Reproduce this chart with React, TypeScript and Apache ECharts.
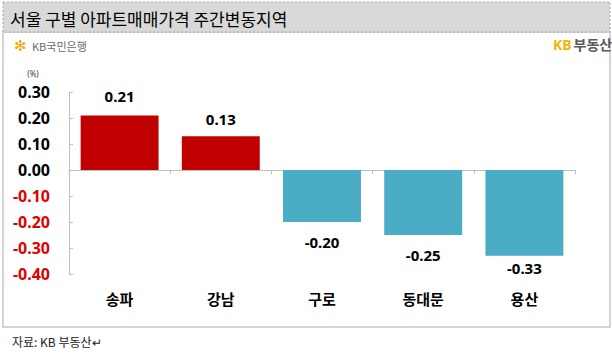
import React, { useEffect, useRef } from "react";
import * as echarts from "echarts";

const categories = ["송파", "강남", "구로", "동대문", "용산"];
const values = [0.21, 0.13, -0.2, -0.25, -0.33];
const yTicks = { min: -0.4, max: 0.3, interval: 0.1 };
const titleText = "서울 구별 아파트매매가격 주간변동지역";
const unitText = "(%)";
const sourceText = "자료: KB 부동산↵";
const labelGaps = [12, 10, 12, 12, 5];

const RED = "#c00000";
const TEAL = "#4bacc6";
const KR = "'Noto Sans CJK KR', 'Noto Sans', sans-serif";
const NUM = "'Noto Sans', 'DejaVu Sans', sans-serif";

export default function App() {
  const ref = useRef<HTMLDivElement>(null);
  useEffect(() => {
    if (!ref.current) return;
    const chart = echarts.init(ref.current, null, { renderer: "svg" });
    const option = {
      animation: false,
      backgroundColor: "#ffffff",
      grid: { left: 69, right: 37, top: 92, bottom: 85, containLabel: false },
      xAxis: [
        {
          type: "category",
          data: categories,
          axisLine: { onZero: true, lineStyle: { color: "#bfbfbf", width: 1 } },
          axisTick: { show: true, length: 4, lineStyle: { color: "#bfbfbf" } },
          axisLabel: { show: false },
        },
        {
          type: "category",
          data: categories,
          position: "bottom",
          axisLine: { show: false, onZero: false },
          axisTick: { show: false },
          axisLabel: {
            margin: 17,
            fontSize: 15,
            fontWeight: "bold",
            color: "#000",
            fontFamily: KR,
          },
        },
      ],
      yAxis: {
        type: "value",
        min: yTicks.min,
        max: yTicks.max,
        interval: yTicks.interval,
        axisLine: { show: true, lineStyle: { color: "#bfbfbf" } },
        axisTick: { show: true, inside: true, length: 4, lineStyle: { color: "#bfbfbf" } },
        splitLine: { show: false },
        axisLabel: {
          margin: 19,
          fontSize: 16,
          fontWeight: "bold",
          fontFamily: NUM,
          formatter: (v: number) => v.toFixed(2),
          color: (v: any) => (Number(v) < 0 ? "#e00000" : "#000000"),
        },
      },
      series: [
        {
          type: "bar",
          xAxisIndex: 0,
          barWidth: "77%",
          data: values.map((v, i) => ({
            value: v,
            itemStyle: { color: v >= 0 ? RED : TEAL },
            label: { position: v >= 0 ? "top" : "bottom", distance: labelGaps[i] },
          })),
          label: {
            show: true,
            fontSize: 15,
            fontWeight: "bold",
            fontFamily: NUM,
            color: "#000",
            formatter: (p: any) => Number(p.value).toFixed(2),
          },
        },
      ],
      graphic: [
        {
          type: "rect",
          shape: { x: 3, y: 32, width: 607, height: 295 },
          style: { fill: "none", stroke: "#d4d4d4", lineWidth: 2 },
          z: -1,
        },
        {
          type: "rect",
          shape: { x: 3, y: 2, width: 607, height: 30 },
          style: { fill: "#d9d9d9", stroke: "#a6a6a6", lineWidth: 1, lineDash: [2, 2] },
          z: 0,
        },
        {
          type: "text",
          x: 10,
          y: 18,
          style: {
            text: titleText,
            fontSize: 17,
            fontFamily: KR,
            fill: "#000",
            verticalAlign: "middle",
          },
        },
        {
          type: "text",
          x: 14,
          y: 46,
          style: {
            text: "✻",
            fontSize: 15,
            fontWeight: "bold",
            fontFamily: "'DejaVu Sans', sans-serif",
            fill: "#f2a900",
            verticalAlign: "middle",
          },
        },
        {
          type: "text",
          x: 32,
          y: 46,
          style: {
            text: "KB국민은행",
            fontSize: 11,
            fontFamily: KR,
            fill: "#6b6b6b",
            verticalAlign: "middle",
          },
        },
        {
          type: "text",
          x: 553,
          y: 44,
          style: {
            text: "{a|KB}{b|부동산}",
            verticalAlign: "middle",
            rich: {
              a: { fontSize: 14, fontWeight: "bold", fontFamily: NUM, fill: "#f4b400", padding: [0, 2, 0, 0] },
              b: { fontSize: 14, fontWeight: "bold", fontFamily: KR, fill: "#595959" },
            },
          },
        },
        {
          type: "text",
          x: 33,
          y: 73,
          style: {
            text: unitText,
            fontSize: 8,
            fontFamily: NUM,
            fill: "#444",
            align: "center",
            verticalAlign: "middle",
          },
        },
        {
          type: "text",
          x: 12,
          y: 341,
          style: {
            text: sourceText,
            fontSize: 12,
            fontFamily: KR,
            fill: "#222",
            verticalAlign: "middle",
          },
        },
      ],
    };
    chart.setOption(option as any);
    return () => chart.dispose();
  }, []);
  return (
    <div
      ref={ref}
      style={{ position: "fixed", left: 0, top: 0, width: 612, height: 359 }}
    />
  );
}
